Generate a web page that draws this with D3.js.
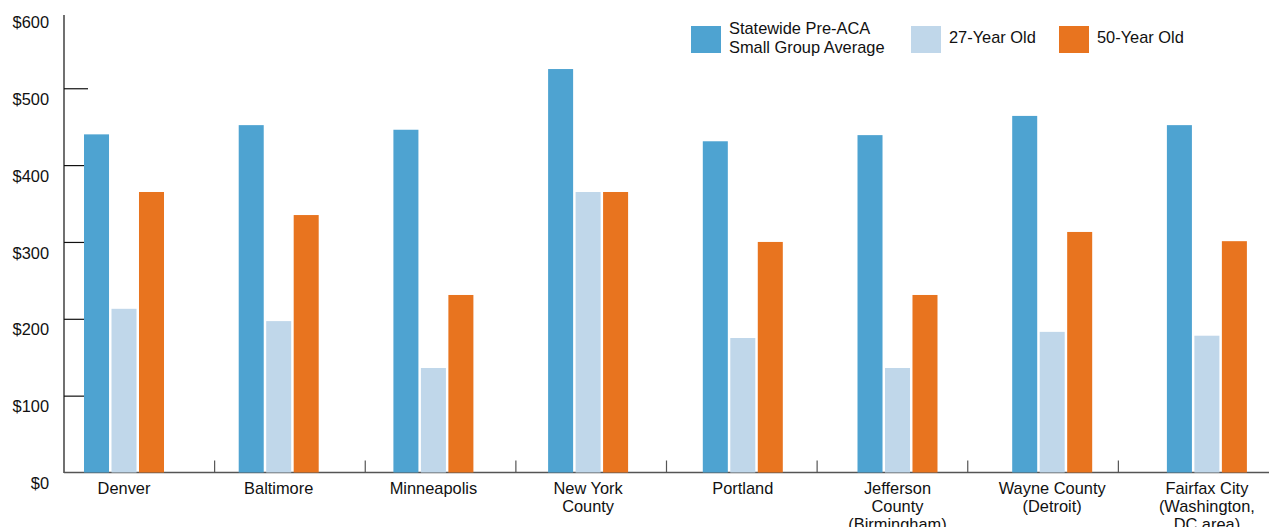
<!DOCTYPE html>
<html>
<head>
<meta charset="utf-8">
<script src="https://cdn.jsdelivr.net/npm/d3@7/dist/d3.min.js"></script>
<style>
  html, body { margin: 0; padding: 0; background: #fff; }
  svg { display: block; font-family: "Liberation Sans", Arial, Helvetica, sans-serif; }
</style>
</head>
<body>
<svg id="chart" width="1269" height="527"></svg>
<script>
// Monthly premiums by market
const categories = [
  "Denver", "Baltimore", "Minneapolis", "New York County", "Portland",
  "Jefferson County (Birmingham)", "Wayne County (Detroit)", "Fairfax City (Washington, DC area)"
];
const categoryLines = [
  ["Denver"], ["Baltimore"], ["Minneapolis"], ["New York", "County"], ["Portland"],
  ["Jefferson", "County", "(Birmingham)"], ["Wayne County", "(Detroit)"],
  ["Fairfax City", "(Washington,", "DC area)"]
];
const seriesNames = ["Statewide Pre-ACA Small Group Average", "27-Year Old", "50-Year Old"];
const legendLines = [["Statewide Pre-ACA", "Small Group Average"], ["27-Year Old"], ["50-Year Old"]];
const statewideAvg = [440, 452, 446, 525, 431, 439, 464, 452];
const age27 = [213, 197, 136, 365, 175, 136, 183, 178];
const age50 = [365, 335, 231, 365, 300, 231, 313, 301];
const yTicks = [0, 100, 200, 300, 400, 500, 600];
const colors = ["#4ea3d1", "#c0d7ea", "#e8741f"];

const svg = d3.select("#chart");
const W = 1269;
const axisX = 64, baseY = 472.5;
const fontSize = 16.4;

const y = d3.scaleLinear().domain([0, 600]).range([baseY, 11.4]);

// groups of bars
const xGroup = d3.scaleBand().domain(categories)
  .range([46.65, 1284.25]).paddingInner(0.4829).paddingOuter(0.2415);
const xSeries = d3.scaleBand().domain(seriesNames)
  .range([0, xGroup.bandwidth()]).paddingInner(0.09);
// tick divisions along the bottom axis
const xDiv = d3.scaleBand().domain(categories).range([axisX, W]);

// y axis
const yAxis = d3.axisLeft(y).tickValues(yTicks).tickFormat(d => "$" + d)
  .tickSizeInner(-24).tickSizeOuter(0);
const yg = svg.append("g").attr("transform", `translate(${axisX},0)`).call(yAxis);
yg.select(".domain").remove();
yg.selectAll(".tick line")
  .attr("stroke", "#111").attr("stroke-width", 1.2)
  .attr("display", d => (d === 0 || d === 600) ? "none" : null);
yg.selectAll(".tick text")
  .attr("x", -15).attr("y", 0).attr("dy", "0.98em")
  .attr("font-size", fontSize).attr("fill", "#111")
  .attr("font-family", "Liberation Sans, Arial, sans-serif");

svg.append("line")
  .attr("x1", axisX).attr("x2", axisX)
  .attr("y1", 15).attr("y2", baseY + 0.5)
  .attr("stroke", "#111").attr("stroke-width", 1.2);

// bottom axis line and division ticks
svg.append("line")
  .attr("x1", axisX).attr("x2", W)
  .attr("y1", baseY).attr("y2", baseY)
  .attr("stroke", "#555").attr("stroke-width", 1.3);
svg.append("g").selectAll("line")
  .data(categories.slice(1))
  .join("line")
  .attr("x1", d => xDiv(d)).attr("x2", d => xDiv(d))
  .attr("y1", baseY - 12).attr("y2", baseY)
  .attr("stroke", "#555").attr("stroke-width", 1.2);

// bars
const rows = categories.map((c, i) => ({
  cat: c,
  vals: [statewideAvg[i], age27[i], age50[i]]
}));
const groups = svg.append("g").selectAll("g")
  .data(rows)
  .join("g")
  .attr("transform", d => `translate(${xGroup(d.cat)},0)`);
groups.selectAll("rect")
  .data(d => d.vals.map((v, k) => ({ v, k })))
  .join("rect")
  .attr("x", d => xSeries(seriesNames[d.k]))
  .attr("width", xSeries.bandwidth())
  .attr("y", d => y(d.v))
  .attr("height", d => y(0) - y(d.v))
  .attr("fill", d => colors[d.k]);

// category labels
const labels = svg.append("g").selectAll("text")
  .data(categories)
  .join("text")
  .attr("x", d => xGroup(d) + xGroup.bandwidth() / 2)
  .attr("y", baseY + 21)
  .attr("text-anchor", "middle")
  .attr("font-size", fontSize)
  .attr("fill", "#111");
labels.each(function (d, i) {
  d3.select(this).selectAll("tspan")
    .data(categoryLines[i])
    .join("tspan")
    .attr("x", xGroup(d) + xGroup.bandwidth() / 2)
    .attr("dy", (t, j) => j === 0 ? 0 : 18)
    .text(t => t);
});

// legend
const legendX = [691, 911, 1059];
const leg = svg.append("g").selectAll("g")
  .data(seriesNames)
  .join("g")
  .attr("transform", (d, i) => `translate(${legendX[i]},26)`);
leg.append("rect")
  .attr("width", 30).attr("height", 27)
  .attr("fill", (d, i) => colors[i]);
leg.append("text")
  .attr("x", 38)
  .attr("font-size", fontSize)
  .attr("fill", "#111")
  .each(function (d, i) {
    const lines = legendLines[i];
    d3.select(this).selectAll("tspan")
      .data(lines)
      .join("tspan")
      .attr("x", 38)
      .attr("y", (t, j) => lines.length === 1 ? 17 : 7.5 + j * 19)
      .text(t => t);
  });
</script>
</body>
</html>
